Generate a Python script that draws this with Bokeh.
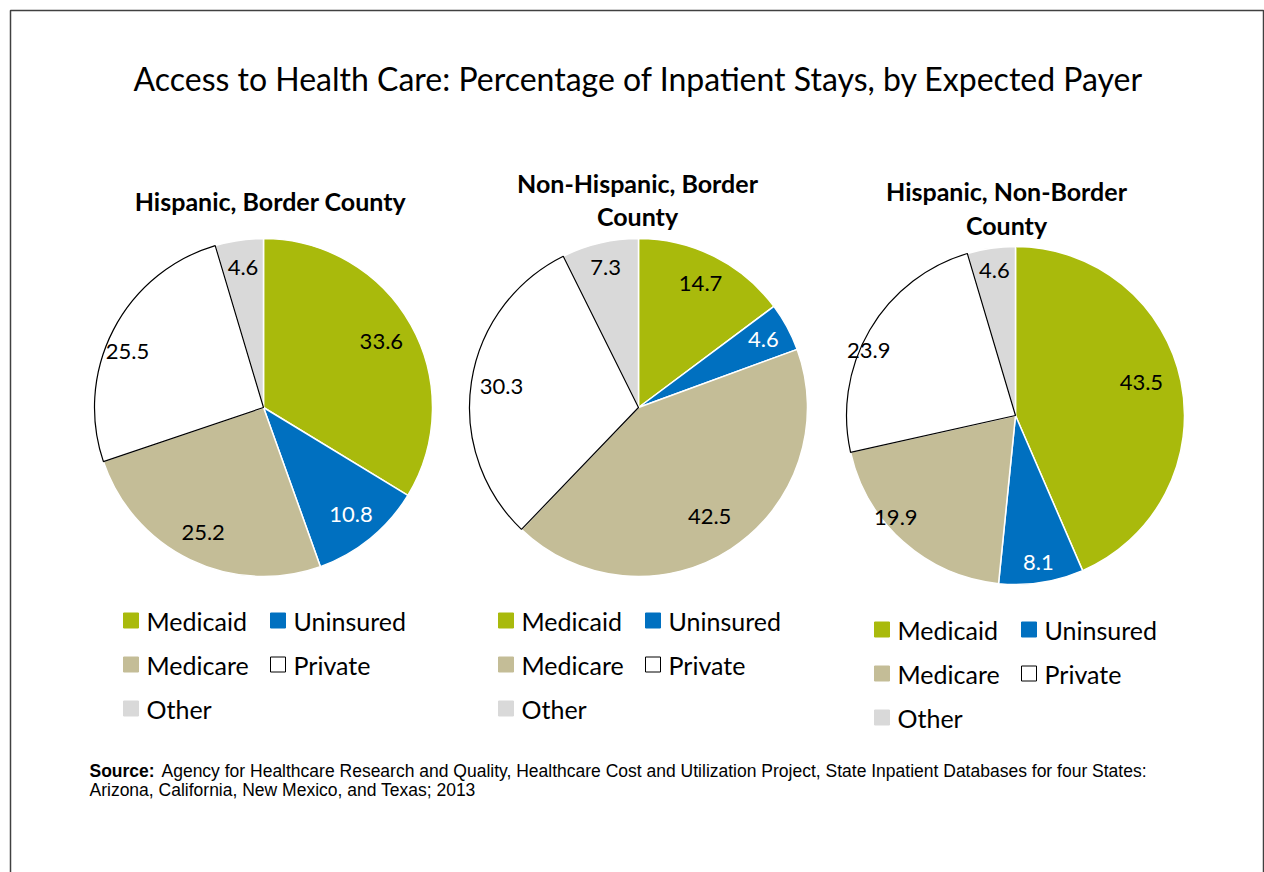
import math
from bokeh.plotting import figure
from bokeh.models import Range1d
from bokeh.core.properties import value
from bokeh.embed import file_html
from bokeh.resources import INLINE

# ---------------- data ----------------
title = "Access to Health Care: Percentage of Inpatient Stays, by Expected Payer"
categories = ["Medicaid", "Uninsured", "Medicare", "Private", "Other"]
pie_titles = [["Hispanic, Border County"],
              ["Non-Hispanic, Border", "County"],
              ["Hispanic, Non-Border", "County"]]
hispanic_border = [33.6, 10.8, 25.2, 25.5, 4.6]
nonhispanic_border = [14.7, 4.6, 42.5, 30.3, 7.3]
hispanic_nonborder = [43.5, 8.1, 19.9, 23.9, 4.6]
series = [hispanic_border, nonhispanic_border, hispanic_nonborder]
source_bold = "Source:"
source_lines = ["Agency for Healthcare Research and Quality, Healthcare Cost and Utilization Project, State Inpatient Databases for four States:",
                "Arizona, California, New Mexico, and Texas; 2013"]

# ---------------- styles / layout ----------------
colors = ["#A9BA0C", "#0070C0", "#C4BD97", "#FFFFFF", "#D9D9D9"]
label_colors = ["black", "white", "black", "black", "black"]
W, H = 1264, 872
FONT = "Lato"
SRC_FONT = "Liberation Sans"

def X(xi):  # image px -> data x
    return xi

def Y(yi):  # image px -> data y (y up)
    return H - yi

centers = [(263, 407), (638, 407), (1015, 415)]
R = 169
label_r = [[0.80, 0.82, 0.82, 0.87, 0.84],
           [0.82, 0.84, 0.77, 0.82, 0.85],
           [0.77, 0.88, 0.93, 0.95, 0.87]]
label_da = [[0, 0, 0, -5, 0],
            [0, 0, 0, 0, 0],
            [-3, 0, 8, -6.5, 0]]  # clockwise label angle tweak, degrees
title_pos = [[(270, 200)], [(637, 182), (637, 215)], [(1006, 190), (1006, 224)]]
legend_origin = [(123, 620), (498, 620), (874, 629)]
legend_slots = [(0, 0), (1, 0), (0, 1), (1, 1), (0, 2)]  # (col,row) per category
COL_DX, ROW_DY, SQ = 147, 44, 15

p = figure(width=W, height=H, x_range=Range1d(0, W), y_range=Range1d(0, H),
           output_backend="svg", toolbar_location=None, min_border=0)
p.axis.visible = False
p.grid.visible = False
p.outline_line_color = None
p.background_fill_color = "white"
p.border_fill_color = "white"

# frame border
p.line(x=[X(10), X(10), X(1263), X(1263)], y=[-5, Y(10), Y(10), -5],
       line_color="#404040", line_width=1.5)

# main title
p.text(x=[X(638)], y=[Y(78)], text=[title], text_align="center", text_baseline="middle",
       text_font=value(FONT), text_font_size="32px", text_color="black")

for k, vals in enumerate(series):
    cx, cy = X(centers[k][0]), Y(centers[k][1])
    total = sum(vals)
    cum = 0.0
    starts, ends, mids = [], [], []
    for v in vals:
        a0 = math.pi / 2 - 2 * math.pi * cum / total
        cum += v
        a1 = math.pi / 2 - 2 * math.pi * cum / total
        starts.append(a0)
        ends.append(a1)
        mids.append((a0 + a1) / 2)
    # colored slices (white outlines)
    for i in range(len(vals)):
        if categories[i] == "Private":
            continue
        p.wedge(x=cx, y=cy, radius=R, start_angle=starts[i], end_angle=ends[i],
                direction="clock", fill_color=colors[i], line_color="white", line_width=1.5)
    # private slice (black outline) on top
    i = categories.index("Private")
    p.wedge(x=cx, y=cy, radius=R, start_angle=starts[i], end_angle=ends[i],
            direction="clock", fill_color=colors[i], line_color="black", line_width=1.2)
    # data labels
    ang = [mids[i] - math.radians(label_da[k][i]) for i in range(len(vals))]
    lx = [cx + label_r[k][i] * R * math.cos(ang[i]) for i in range(len(vals))]
    ly = [cy + label_r[k][i] * R * math.sin(ang[i]) for i in range(len(vals))]
    p.text(x=lx, y=ly, text=[f"{v:.1f}" for v in vals], text_align="center",
           text_baseline="middle", text_font=value(FONT), text_font_size="22px",
           text_color=label_colors)
    # pie title
    for line, (tx, ty) in zip(pie_titles[k], title_pos[k]):
        p.text(x=[X(tx)], y=[Y(ty)], text=[line], text_align="center", text_baseline="middle",
               text_font=value(FONT), text_font_style="bold", text_font_size="25px",
               text_color="black")
    # legend
    ox, oy = legend_origin[k]
    for i, cat in enumerate(categories):
        col, row = legend_slots[i]
        sx = ox + col * COL_DX
        sy = oy + row * ROW_DY
        p.rect(x=[X(sx + SQ / 2)], y=[Y(sy)], width=SQ, height=SQ,
               fill_color=colors[i], line_color="black" if cat == "Private" else colors[i],
               line_width=1)
        p.text(x=[X(sx + 23)], y=[Y(sy)], text=[cat], text_align="left", text_baseline="middle",
               text_font=value(FONT), text_font_size="25px", text_color="black")

# source note
p.text(x=[X(89)], y=[Y(770)], text=[source_bold], text_align="left", text_baseline="middle",
       text_font=value(SRC_FONT), text_font_style="bold",
       text_font_size="17.5px", text_color="black")
p.text(x=[X(161)], y=[Y(770)], text=[source_lines[0]], text_align="left", text_baseline="middle",
       text_font=value(SRC_FONT), text_font_size="17.5px", text_color="black")
p.text(x=[X(89)], y=[Y(789)], text=[source_lines[1]], text_align="left", text_baseline="middle",
       text_font=value(SRC_FONT), text_font_size="17.5px", text_color="black")

open("out.html", "w").write(file_html(p, INLINE))
